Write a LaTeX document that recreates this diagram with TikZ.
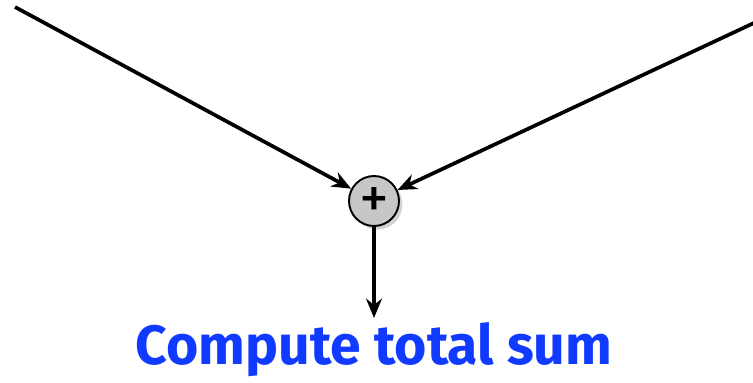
\documentclass[tikz,border=0pt]{standalone}
\usepackage{fontspec}
\setmainfont{Fira Sans}
\usetikzlibrary{arrows.meta,shadows}
\definecolor{sumblue}{RGB}{16,58,255}
\tikzset{
  flow/.style={-{Stealth[length=11pt,width=9pt]}, line width=2.1pt},
  adder/.style={circle, draw=black, line width=1.1pt, fill=black!22, minimum size=1cm, inner sep=0pt,
    drop shadow={shadow xshift=2pt, shadow yshift=-2pt, opacity=0.35}}
}
\begin{document}
\begin{tikzpicture}[x=0.02cm, y=-0.02cm]
        \useasboundingbox (0,0) rectangle (753,382);
        \node[adder] (sum) at (374,201) {};
        \node[font=\fontsize{34}{34}\selectfont, inner sep=0pt] (plus) at (374,203) {+};
        \node[text=sumblue, font=\bfseries\fontsize{31.5}{36}\selectfont] (total) at (374,350) {Compute total sum};
        \coordinate (la) at (15,7);
        \coordinate (ra) at (756,22);
        \coordinate (bt) at (374,318);

        \draw[flow] (la) -- (sum);
        \draw[flow] (ra) -- (sum);
        \draw[flow] (sum) -- (bt);
\end{tikzpicture}
\end{document}
